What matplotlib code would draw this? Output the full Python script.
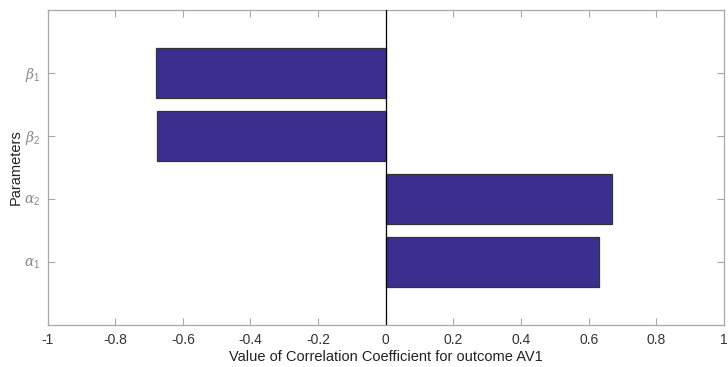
import matplotlib
matplotlib.use("Agg")
import matplotlib.pyplot as plt

# parameters listed bottom to top
params = [r'$\alpha_1$', r'$\alpha_2$', r'$\beta_2$', r'$\beta_1$']
corr = [0.63, 0.67, -0.677, -0.68]
xticks = [-1, -0.8, -0.6, -0.4, -0.2, 0, 0.2, 0.4, 0.6, 0.8, 1]
xtick_labels = ['-1', '-0.8', '-0.6', '-0.4', '-0.2', '0', '0.2', '0.4', '0.6', '0.8', '1']

plt.rcParams['font.family'] = ['Liberation Sans', 'DejaVu Sans']
plt.rcParams['mathtext.fontset'] = 'custom'
plt.rcParams['mathtext.rm'] = 'Liberation Sans'
plt.rcParams['mathtext.it'] = 'DejaVu Serif:italic'

fig = plt.figure(figsize=(7.28, 3.67), dpi=100)
ax = fig.add_axes([0.0653, 0.1144, 0.9292, 0.8584])

ypos = list(range(1, len(params) + 1))
ax.barh(ypos, corr, height=0.8, color='#3a2f8f', edgecolor='#333333', linewidth=0.9, zorder=2)
ax.axvline(0, color='black', linewidth=0.9, zorder=3)

ax.set_xlim(-1, 1)
ax.set_ylim(0, 5)
ax.set_xticks(xticks)
ax.set_xticklabels(xtick_labels)
ax.set_yticks(ypos)
ax.set_yticklabels(params)

for s in ax.spines.values():
    s.set_color('#a8a8a8')
    s.set_linewidth(0.9)
ax.tick_params(direction='in', length=5, width=0.8, color='#a8a8a8',
               top=True, right=True, labelsize=10, labelcolor='#333333', pad=6)
ax.tick_params(axis='y', labelsize=10, labelcolor='#888888', pad=5)

ax.set_xlabel('Value of Correlation Coefficient for outcome AV1', fontsize=10.5, color='#222222', labelpad=2)
ax.set_ylabel('Parameters', fontsize=10.5, color='#222222', labelpad=1)

fig.savefig('out.png', dpi=100)
